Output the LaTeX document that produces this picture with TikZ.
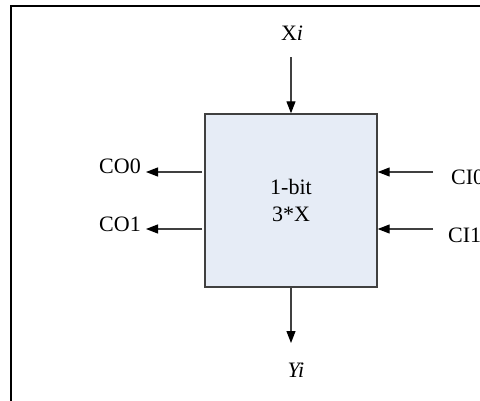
\documentclass[tikz,border=0pt]{standalone}
\usepackage{fontspec}
\setmainfont{Liberation Serif}
\usetikzlibrary{arrows.meta}
\definecolor{boxfill}{RGB}{230,236,246}
\begin{document}
\begin{tikzpicture}[x=1pt,y=-1pt,
  lbl/.style={inner sep=0pt,font=\fontsize{22}{27}\selectfont},
  conn/.style={draw=black!75,line width=1.2pt,-{Triangle[length=12pt,width=9pt,color=black]}},
  blk/.style={draw=black!75,line width=1.4pt,fill=boxfill,minimum width=172pt,minimum height=173pt,inner sep=0pt,align=center,font=\fontsize{22}{27}\selectfont}]
\useasboundingbox (0,0) rectangle (480,400);
\clip (0,0) rectangle (480,400);
\draw[line width=2pt] (10.5,420) -- (10.5,6) -- (500,6);
\node[blk] (box) at (291,200.5) {1-bit\\3*X};
\node[lbl] (xi) at (292,33) {X\textit{i}};
\node[lbl] (yi) at (296,370) {\textit{Yi}};
\node[lbl,anchor=east] (co0) at (141,166) {CO0};
\node[lbl,anchor=east] (co1) at (141,224) {CO1};
\node[lbl,anchor=west] (ci0) at (451,177) {CI0};
\node[lbl,anchor=west] (ci1) at (448,235) {CI1};
\coordinate (xs) at (291,57);
\coordinate (ye) at (291,343);
\coordinate (o0s) at (202,172);
\coordinate (o0e) at (146,172);
\coordinate (o1s) at (202,229);
\coordinate (o1e) at (146,229);
\coordinate (i0s) at (433,172);
\coordinate (i1s) at (433,229);
\draw[conn] (xs) -- (box.north);
\draw[conn] (box.south) -- (ye);
\draw[conn] (o0s) -- (o0e);
\draw[conn] (o1s) -- (o1e);
\draw[conn] (i0s) -- (box.east |- i0s);
\draw[conn] (i1s) -- (box.east |- i1s);
\end{tikzpicture}
\end{document}
